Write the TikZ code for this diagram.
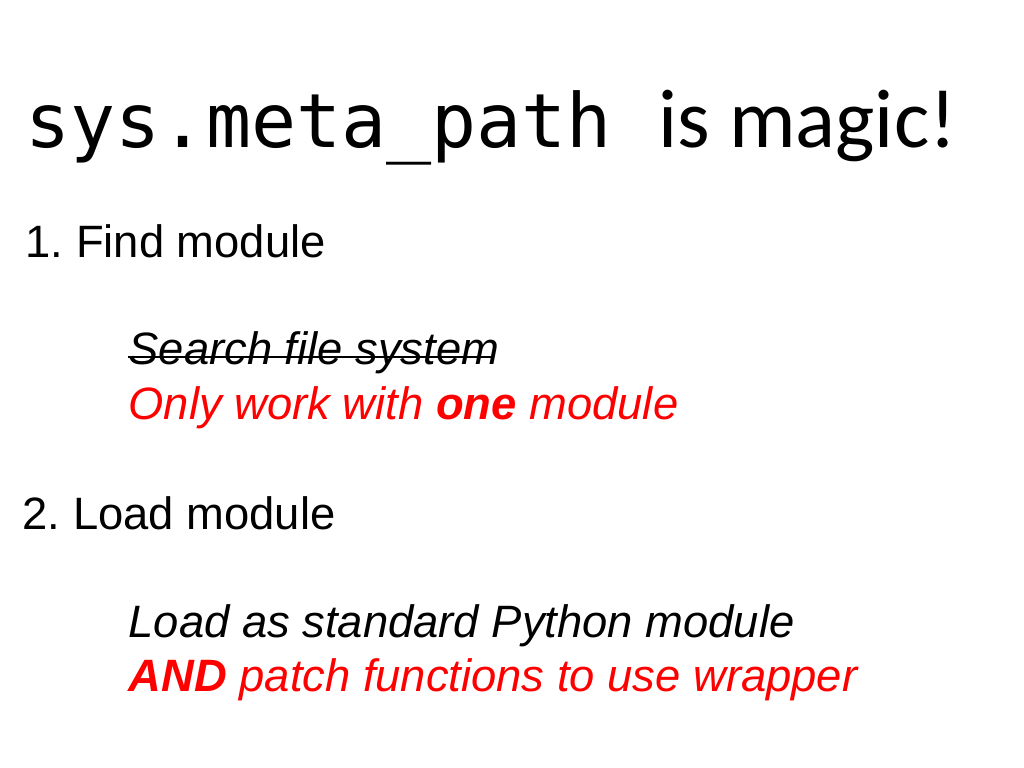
\documentclass[tikz,border=0pt]{standalone}
\usepackage{fontspec}
\setmainfont{Liberation Sans}
\newfontfamily\codefont{DejaVu Sans Mono}
\newfontfamily\slidefont{Carlito}
\definecolor{alertred}{RGB}{255,0,0}
\frenchspacing

\begin{document}
\begin{tikzpicture}[x=0.01cm, y=-0.01cm,
        line/.style={anchor=base west, inner sep=0pt, font=\fontsize{12.9}{15}\selectfont},
        note/.style={line, font=\fontsize{12.9}{15}\selectfont\itshape}]
    \useasboundingbox[fill=white] (0,0) rectangle (1024,768);

    % title
    \node[anchor=base west, inner sep=0pt, font=\fontsize{21.3}{25}\codefont] (title_code) at (25,148) {sys.meta\_path};
    \node[anchor=base west, inner sep=0pt, font=\fontsize{23.7}{28}\slidefont] (title_text) at (658,148) {is magic!};

    % step 1
    \node[line] (find) at (25,258) {1. Find module};
    \node[note] (search) at (128,365) {Search file system};
    \draw[line width=0.4pt] ([yshift=0.8mm]search.base west) -- ([yshift=0.8mm,xshift=-0.8mm]search.base east);
    \node[note, text=alertred] (one) at (128,420) {Only work with \textbf{one} module};

    % step 2
    \node[line] (load) at (22,530) {2. Load module};
    \node[note] (standard) at (128,638) {Load as standard Python module};
    \node[note, text=alertred] (patch) at (128,692) {\textbf{AND} patch functions to use wrapper};
\end{tikzpicture}
\end{document}
